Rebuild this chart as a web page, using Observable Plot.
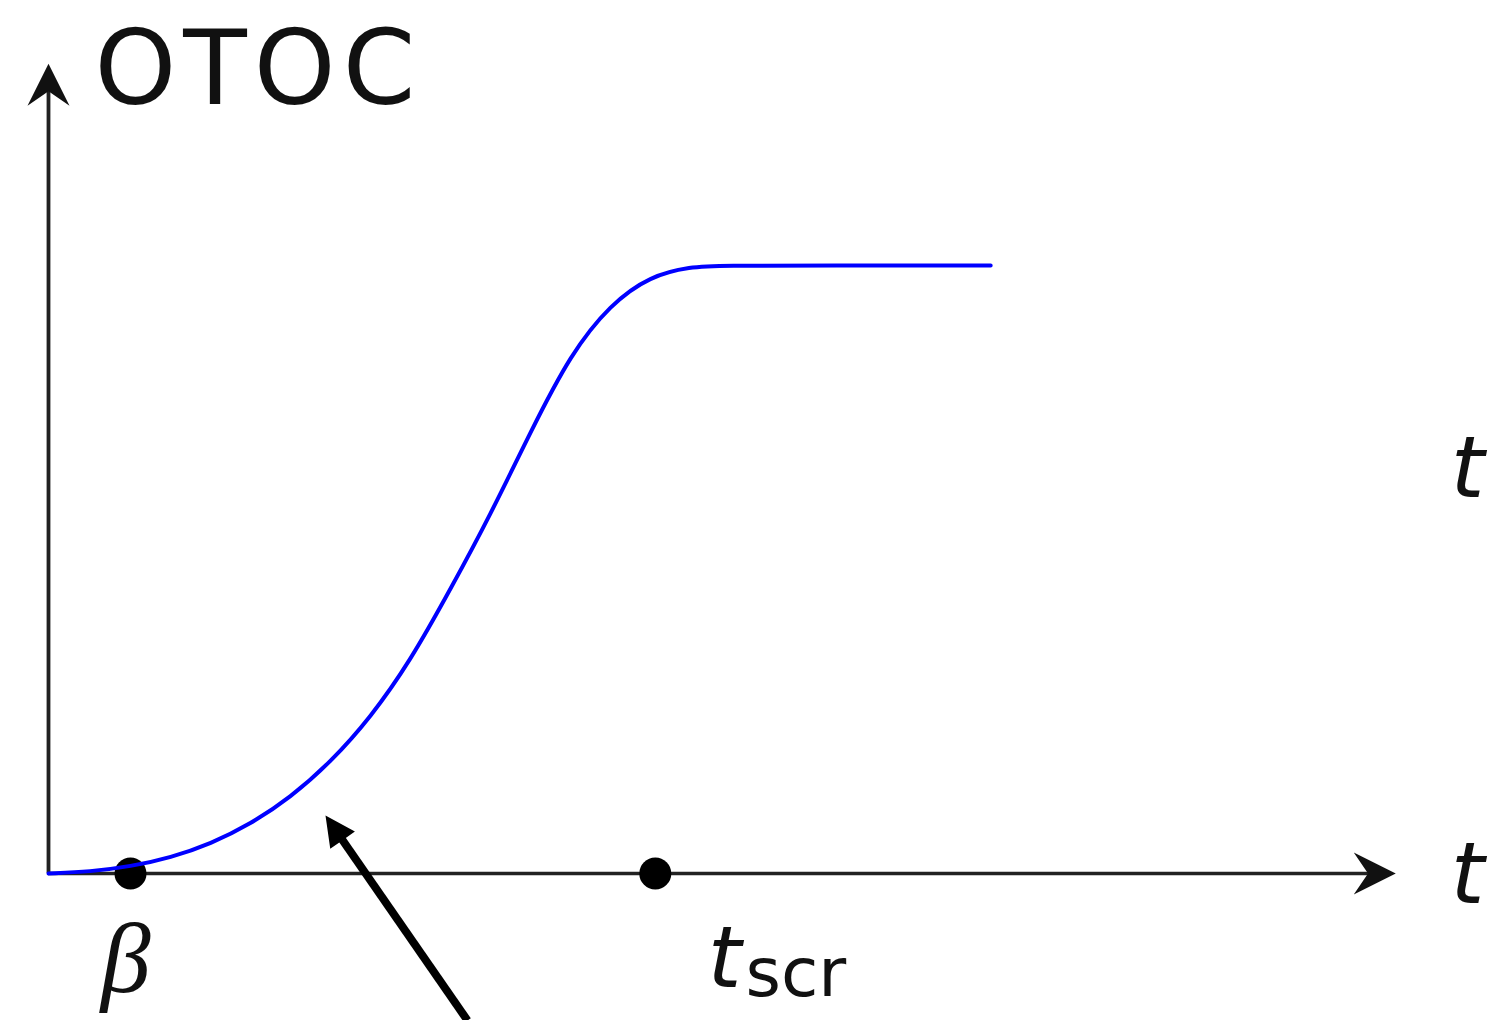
<!DOCTYPE html>
<html><head><meta charset="utf-8">
<script src="https://cdn.jsdelivr.net/npm/d3@7"></script>
<script src="https://cdn.jsdelivr.net/npm/@observablehq/plot@0.6"></script>
<style>html,body{margin:0;padding:0;background:#fff;} #chart svg{display:block;}</style>
</head><body><div id="chart"></div>
<script>
// ---- data (time t in units where β = 1; OTOC normalised so the plateau = 1) ----
const curveT    = [0, 0.51, 1.0, 1.49, 1.98, 2.46, 2.95, 3.44, 3.93, 4.41, 4.90, 5.39, 5.88, 6.37, 6.85, 7.34, 7.83, 8.2, 9.5, 11.49];
const curveOTOC = [0, 0.003, 0.0115, 0.026, 0.049, 0.081, 0.125, 0.183, 0.257, 0.349, 0.467, 0.590, 0.727, 0.855, 0.936, 0.983, 0.998, 1.0, 1.0, 1.0];
const markerT   = [1.0, 7.4];            // β and t_scr on the time axis
const axisEndT  = 16.43;                  // end of the time axis (arrow tip)
const axisEndY  = 1.332;                  // end of the OTOC axis (arrow tip)
const pointerFrom = [5.11, -0.2418];      // annotation arrow: tail
const pointerTo   = [3.378, 0.0954];      // annotation arrow: tip
// labels: [text, t, otoc]
const labelsSans   = [["OTOC", 0.56, 1.321]];
const labelsItalT  = [["t", 17.10, 0.664], ["t", 17.10, -0.003], ["t", 8.04, -0.142]];
const labelsBeta   = [["β", 0.94, -0.143]];
const labelsSub    = [["scr", 8.50, -0.166]];

// ---- scales ----
const W = 1496, H = 1020;
const pxX = 82, pxY = 608;
const xmin = -48 / pxX, xmax = xmin + W / pxX;
const ymin = -(H - 873) / pxY, ymax = 873 / pxY;

const curve = curveT.map((t, i) => ({t, v: curveOTOC[i]}));
const markers = markerT.map(t => ({t, v: 0}));

function arrowHead(back, halfW) {
  return {draw(ctx, size) {
    const L = Math.sqrt(size / Math.PI);
    ctx.moveTo(0, 0);
    ctx.lineTo(-L, -halfW * L);
    ctx.lineTo(-back * L, 0);
    ctx.lineTo(-L, halfW * L);
    ctx.closePath();
  }};
}
const stealth = arrowHead(0.66, 0.5);
const tri = arrowHead(1.0, 0.5);

// pointer geometry (pixel direction from the scale factors)
const dxp = (pointerTo[0] - pointerFrom[0]) * pxX;
const dyp = -(pointerTo[1] - pointerFrom[1]) * pxY;
const lenp = Math.hypot(dxp, dyp);
const angle = Math.atan2(dyp, dxp) * 180 / Math.PI;
const headLen = 30;
const shaftEnd = [pointerTo[0] - (dxp / lenp) * (headLen - 6) / pxX,
                  pointerTo[1] + (dyp / lenp) * (headLen - 6) / pxY];

const ink = "#111";
const chart = Plot.plot({
  width: W, height: H, margin: 0,
  x: {domain: [xmin, xmax], axis: null},
  y: {domain: [ymin, ymax], axis: null},
  marks: [
    Plot.ruleY([0], {x1: 0, x2: axisEndT - 0.3, stroke: "#222", strokeWidth: 3.5}),
    Plot.ruleX([0], {y1: 0, y2: axisEndY - 0.03, stroke: "#222", strokeWidth: 3.8}),
    Plot.dot([{t: axisEndT, v: 0}], {x: "t", y: "v", symbol: stealth, r: 42, fill: ink, stroke: "none"}),
    Plot.dot([{t: 0, v: axisEndY}], {x: "t", y: "v", symbol: stealth, r: 42, rotate: -90, fill: ink, stroke: "none"}),
    Plot.dot(markers, {x: "t", y: "v", r: 16, fill: "#000", stroke: "none"}),
    Plot.line(curve, {x: "t", y: "v", stroke: "#0000ff", strokeWidth: 4, curve: "basis"}),
    Plot.link([0], {x1: pointerFrom[0], y1: pointerFrom[1], x2: shaftEnd[0], y2: shaftEnd[1], stroke: "#000", strokeWidth: 8}),
    Plot.dot([{t: pointerTo[0], v: pointerTo[1]}], {x: "t", y: "v", symbol: tri, r: headLen, rotate: angle, fill: "#000", stroke: "none"}),
    Plot.text(labelsSans, {x: d => d[1], y: d => d[2], text: d => d[0], textAnchor: "start", fontSize: 104, fontFamily: "DejaVu Sans", fill: ink, className: "otoc-label"}),
    Plot.text(labelsItalT, {x: d => d[1], y: d => d[2], text: d => d[0], textAnchor: "start", fontSize: 86, fontStyle: "italic", fontFamily: "DejaVu Sans", fill: ink}),
    Plot.text(labelsBeta, {x: d => d[1], y: d => d[2], text: d => d[0], textAnchor: "middle", fontSize: 100, fontStyle: "italic", fontFamily: "Liberation Serif", fill: ink}),
    Plot.text(labelsSub, {x: d => d[1], y: d => d[2], text: d => d[0], textAnchor: "start", fontSize: 68, fontFamily: "DejaVu Sans", fill: ink})
  ]
});
d3.select(chart).selectAll(".otoc-label text").style("letter-spacing", "7px");
document.getElementById("chart").appendChild(chart);
</script>
</body></html>
